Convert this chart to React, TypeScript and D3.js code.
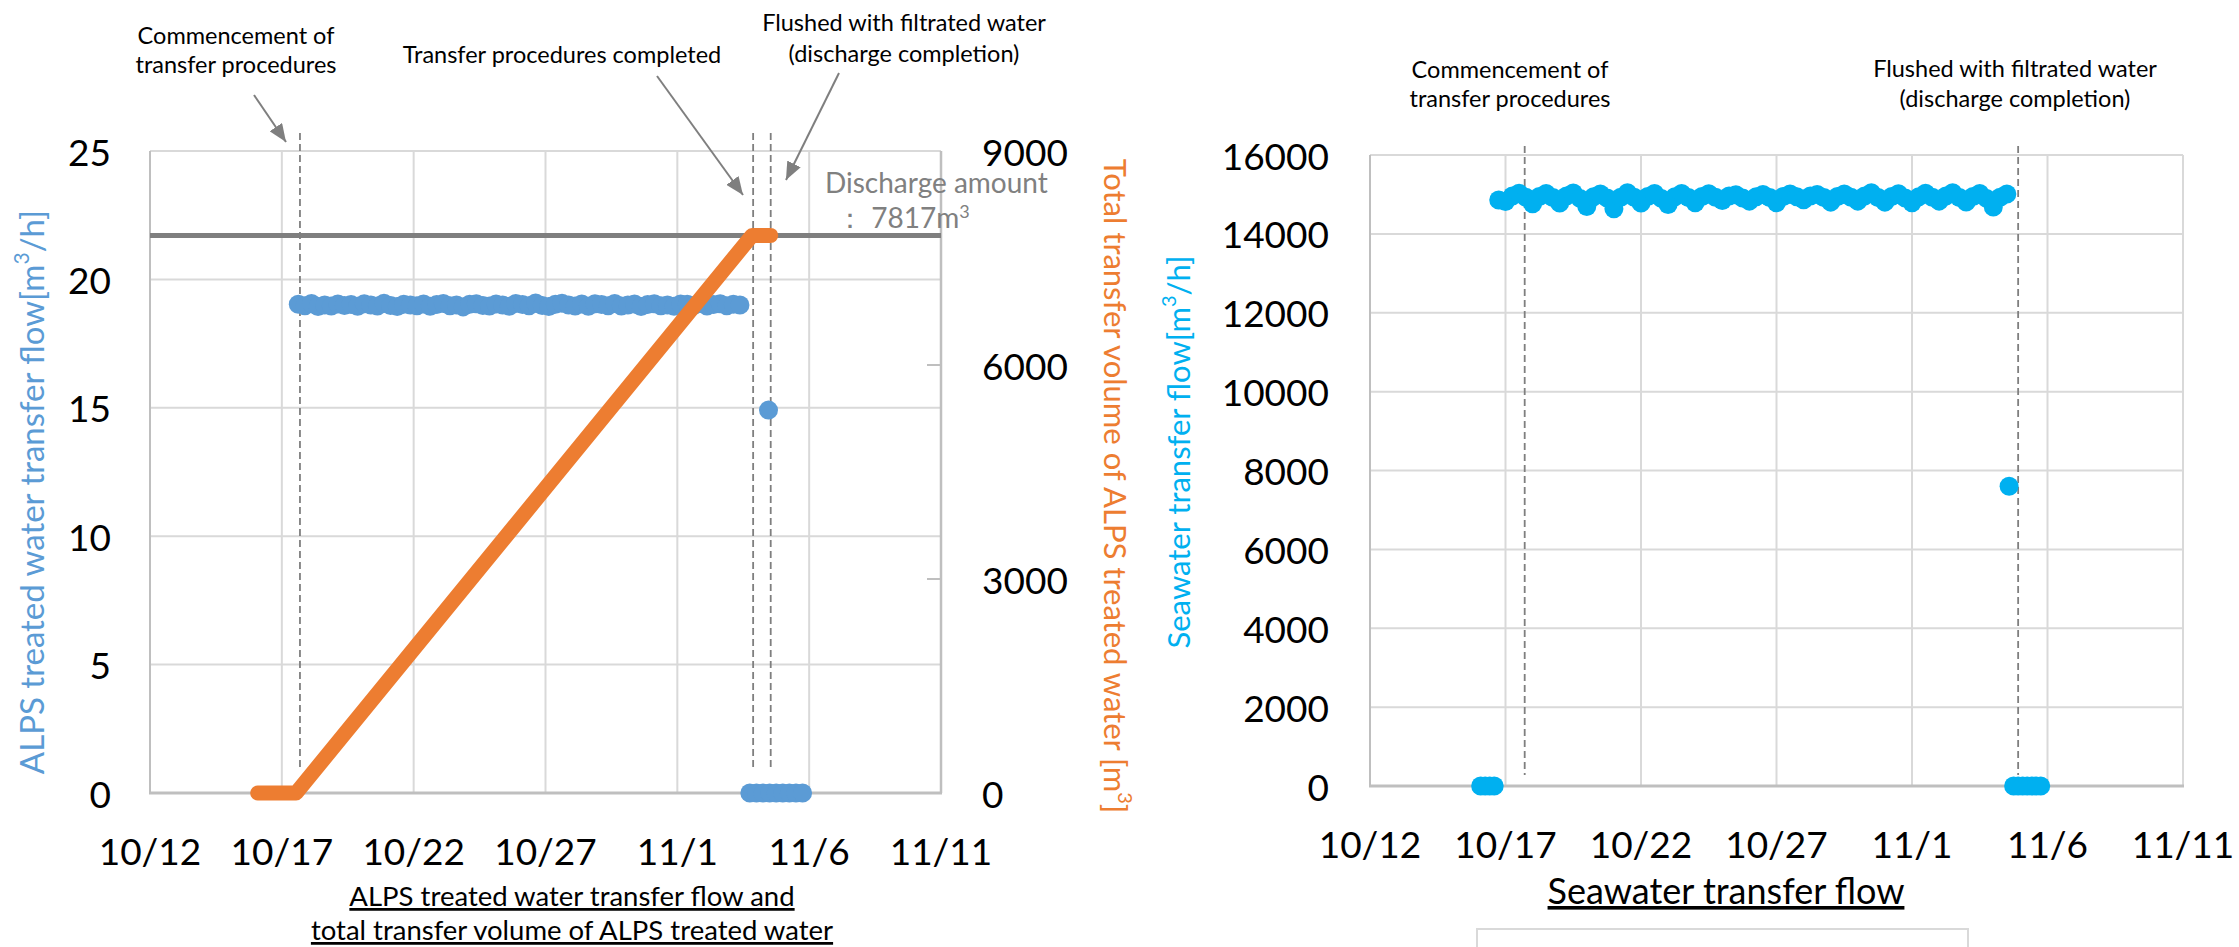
import React from "react";
import * as d3 from "d3";

// ---------- DATA ----------
const xTickLabels = ["10/12", "10/17", "10/22", "10/27", "11/1", "11/6", "11/11"];
const leftTicks = [0, 5, 10, 15, 20, 25];
const leftRightTicks = [0, 3000, 6000, 9000];
const rightTicks = [0, 2000, 4000, 6000, 8000, 10000, 12000, 14000, 16000];

// ALPS treated water transfer flow (m3/h), sampled every 6 h from 10/17 15:00
const alpsFlowStart = "10/17 15:00";
const alpsFlowValues = [
  19.03, 18.97, 19.06, 18.94, 19.0, 18.96, 19.04, 18.98, 19.02, 18.95,
  19.05, 19.0, 18.96, 19.07, 18.98, 18.94, 19.03, 19.0, 18.97, 19.04,
  18.95, 19.02, 19.06, 18.97, 19.0, 18.93, 19.03, 19.05, 18.98, 18.96,
  19.04, 19.0, 18.95, 19.06, 19.02, 18.97, 19.08, 18.98, 18.94, 19.03,
  19.07, 19.0, 18.96, 19.04, 18.95, 19.05, 19.02, 18.97, 19.06, 18.96,
  19.0, 19.04, 18.94, 19.02, 19.05, 18.97, 19.0, 18.95, 19.04, 19.03,
  18.98, 19.06, 18.96, 19.02, 19.05, 18.97, 19.03, 19.0,
];
// other ALPS flow points
const alpsFlowExtra: [string, number][] = [
  ["11/4 11:00", 14.91],
  ["11/3 18:00", 0], ["11/4 00:00", 0], ["11/4 06:00", 0], ["11/4 12:00", 0],
  ["11/4 18:00", 0], ["11/5 00:00", 0], ["11/5 06:00", 0], ["11/5 12:00", 0], ["11/5 18:00", 0],
];
// Total transfer volume of ALPS treated water (m3)
const alpsVolume: [string, number][] = [
  ["10/16 02:00", 0],
  ["10/17 13:00", 0],
  ["11/3 20:00", 7817],
  ["11/4 13:00", 7817],
];
const dischargeAmount = 7817;

// Seawater transfer flow (m3/h), every 6 h from 10/16 18:00
const seaFlowStart = "10/16 18:00";
const seaFlowValues = [
  14860, 14820, 14960, 15030,
  14930, 14765, 14950, 15025,
  14920, 14780, 14960, 15035,
  14900, 14695, 14940, 15010,
  14910, 14635, 14930, 15045,
  14930, 14780, 14950, 15025,
  14900, 14745, 14940, 15025,
  14920, 14790, 14950, 15020,
  14930, 14845, 14960, 14990,
  14910, 14830, 14940, 15000,
  14920, 14790, 14950, 15010,
  14940, 14865, 14960, 15000,
  14920, 14805, 14950, 15010,
  14930, 14830, 14960, 15045,
  14920, 14805, 14950, 15020,
  14910, 14790, 14940, 15030,
  14930, 14830, 14960, 15045,
  14920, 14810, 14950, 15025,
  14900, 14680, 14930, 15010,
];
const seaFlowExtra: [string, number][] = [
  ["11/4 14:00", 7600],
  ["10/16 02:00", 0], ["10/16 06:00", 0], ["10/16 10:00", 0], ["10/16 14:00", 0],
  ["11/4 18:00", 0], ["11/4 22:00", 0], ["11/5 02:00", 0], ["11/5 06:00", 0],
  ["11/5 10:00", 0], ["11/5 14:00", 0], ["11/5 18:00", 0],
];

// event markers
const leftEvents = ["10/17 16:30", "11/3 21:00", "11/4 13:00"];
const rightEvents = ["10/17 17:00", "11/4 22:00"];

// ---------- HELPERS ----------
const parse = d3.timeParse("%Y/%m/%d %H:%M");
const t = (s: string) => parse("2024/" + s) as Date;
const tickDates = xTickLabels.map((s) => t(s + " 00:00"));
const fmt = (d: Date) => `${d.getMonth() + 1}/${d.getDate()}`;
const seq = (start: string, vals: number[]) =>
  vals.map((v, i) => ({ d: d3.timeHour.offset(t(start), i * 6), v }));

const FONT = "Lato, 'Noto Sans', sans-serif";
const GRID = "#d9d9d9";
const AXIS = "#bfbfbf";
const DASH = "#7f7f7f";
const BLUE = "#5b9bd5";
const ORANGE = "#ed7d31";
const CYAN = "#00b0f0";
const R = 9.5;

export default function App() {
  // left chart scales
  const xL = d3.scaleTime().domain([tickDates[0], tickDates[6]]).range([150, 941]);
  const yL = d3.scaleLinear().domain([0, 25]).range([793, 151]);
  const yL2 = d3.scaleLinear().domain([0, 9000]).range([793, 151]);
  // right chart scales
  const xR = d3.scaleTime().domain([tickDates[0], tickDates[6]]).range([1370, 2183]);
  const yR = d3.scaleLinear().domain([0, 16000]).range([786, 155]);

  const alpsPts = [...seq(alpsFlowStart, alpsFlowValues), ...alpsFlowExtra.map(([s, v]) => ({ d: t(s), v }))];
  const seaPts = [...seq(seaFlowStart, seaFlowValues), ...seaFlowExtra.map(([s, v]) => ({ d: t(s), v }))];
  const volLine = d3
    .line<[string, number]>()
    .x((p) => xL(t(p[0])))
    .y((p) => yL2(p[1]))(alpsVolume) as string;

  const annot = { fontFamily: FONT, fontSize: 23.5, fill: "#000", textAnchor: "middle" as const };

  return (
    <svg width={2239} height={947} style={{ position: "absolute", left: 0, top: 0, background: "#fff" }}>
      <defs>
        <marker id="arr" markerUnits="userSpaceOnUse" markerWidth={19} markerHeight={15} refX={18} refY={7.5} orient="auto">
          <path d="M0,0 L18,7.5 L0,15 Z" fill={DASH} />
        </marker>
      </defs>

      {/* ================= LEFT CHART ================= */}
      <g>
        {leftTicks.map((v) => (
          <line key={"lg" + v} x1={150} x2={941} y1={yL(v)} y2={yL(v)} stroke={GRID} strokeWidth={2} />
        ))}
        {tickDates.slice(1, 6).map((d, i) => (
          <line key={"lv" + i} x1={xL(d)} x2={xL(d)} y1={151} y2={793} stroke={GRID} strokeWidth={2} />
        ))}
        <line x1={150} x2={150} y1={151} y2={793} stroke={AXIS} strokeWidth={2} />
        <line x1={941} x2={941} y1={151} y2={793} stroke={AXIS} strokeWidth={2.5} />
        {leftRightTicks.slice(1, 3).map((v) => (
          <line key={"rt" + v} x1={927} x2={941} y1={yL2(v)} y2={yL2(v)} stroke={AXIS} strokeWidth={2} />
        ))}
        <line x1={149} x2={942} y1={793} y2={793} stroke={AXIS} strokeWidth={3} />

        {/* discharge amount line */}
        <line x1={150} x2={941} y1={yL2(dischargeAmount)} y2={yL2(dischargeAmount)} stroke="#7f7f7f" strokeWidth={5} />

        {/* event dashed lines */}
        {leftEvents.map((s) => (
          <line key={s} x1={xL(t(s))} x2={xL(t(s))} y1={133} y2={770} stroke={DASH} strokeWidth={1.8} strokeDasharray="7 4" />
        ))}

        {/* ALPS flow dots */}
        {alpsPts.map((p, i) => (
          <circle key={"a" + i} cx={xL(p.d)} cy={yL(p.v)} r={R} fill={BLUE} />
        ))}
        {/* ALPS total volume */}
        <path d={volLine} fill="none" stroke={ORANGE} strokeWidth={15} strokeLinecap="round" strokeLinejoin="round" />

        {/* tick labels */}
        {leftTicks.map((v) => (
          <text key={"ly" + v} x={111} y={yL(v)} dominantBaseline="central" textAnchor="end" fontFamily={FONT} fontSize={37}>
            {v}
          </text>
        ))}
        {leftRightTicks.map((v) => (
          <text key={"lr" + v} x={982} y={yL2(v)} dominantBaseline="central" textAnchor="start" fontFamily={FONT} fontSize={37}>
            {v}
          </text>
        ))}
        {tickDates.map((d, i) => (
          <text key={"lx" + i} x={xL(d)} y={850} dominantBaseline="central" textAnchor="middle" fontFamily={FONT} fontSize={37}>
            {fmt(d)}
          </text>
        ))}

        {/* axis titles */}
        <text transform="translate(31,492) rotate(-90)" dominantBaseline="central" textAnchor="middle" fontFamily={FONT} fontSize={33} fill={BLUE}>
          ALPS treated water transfer flow[m<tspan dy={-11} fontSize={21}>3</tspan><tspan dy={11}>/h]</tspan>
        </text>
        <text transform="translate(1116,486) rotate(90)" dominantBaseline="central" textAnchor="middle" fontFamily={FONT} fontSize={31} fill={ORANGE}>
          Total transfer volume of ALPS treated water [m<tspan dy={-10} fontSize={20}>3</tspan><tspan dy={10}>]</tspan>
        </text>

        {/* discharge amount label */}
        <text x={825} y={193} fontFamily={FONT} fontSize={28} fill="#808080">Discharge amount</text>
        <text x={836} y={228} fontFamily={FONT} fontSize={28} fill="#808080">
          ： 7817m<tspan dy={-10} fontSize={18}>3</tspan>
        </text>

        {/* annotations */}
        <text x={236} y={44} {...annot}>Commencement of</text>
        <text x={236} y={73} {...annot}>transfer procedures</text>
        <text x={562} y={63} {...annot}>Transfer procedures completed</text>
        <text x={904} y={31} {...annot}>Flushed with filtrated water</text>
        <text x={904} y={62} {...annot}>(discharge completion)</text>
        <line x1={254} y1={95} x2={286} y2={142} stroke={DASH} strokeWidth={2} markerEnd="url(#arr)" />
        <line x1={657} y1={76} x2={743} y2={195} stroke={DASH} strokeWidth={2} markerEnd="url(#arr)" />
        <line x1={839} y1={73} x2={786} y2={180} stroke={DASH} strokeWidth={2} markerEnd="url(#arr)" />

        {/* chart title */}
        <text x={572} y={906} textAnchor="middle" fontFamily={FONT} fontSize={27.5} textDecoration="underline">
          ALPS treated water transfer flow and
        </text>
        <text x={572} y={940} textAnchor="middle" fontFamily={FONT} fontSize={27.5} textDecoration="underline">
          total transfer volume of ALPS treated water
        </text>
      </g>

      {/* ================= RIGHT CHART ================= */}
      <g>
        {rightTicks.map((v) => (
          <line key={"rg" + v} x1={1370} x2={2183} y1={yR(v)} y2={yR(v)} stroke={GRID} strokeWidth={2} />
        ))}
        {tickDates.slice(1).map((d, i) => (
          <line key={"rv" + i} x1={xR(d)} x2={xR(d)} y1={155} y2={786} stroke={GRID} strokeWidth={2} />
        ))}
        <line x1={1370} x2={1370} y1={155} y2={786} stroke={AXIS} strokeWidth={2} />
        <line x1={1369} x2={2184} y1={786} y2={786} stroke={AXIS} strokeWidth={3} />

        {rightEvents.map((s) => (
          <line key={s} x1={xR(t(s))} x2={xR(t(s))} y1={146} y2={775} stroke={DASH} strokeWidth={1.8} strokeDasharray="7 4" />
        ))}

        {seaPts.map((p, i) => (
          <circle key={"s" + i} cx={xR(p.d)} cy={yR(p.v)} r={R} fill={CYAN} />
        ))}

        {rightTicks.map((v) => (
          <text key={"ry" + v} x={1329} y={yR(v)} dominantBaseline="central" textAnchor="end" fontFamily={FONT} fontSize={37}>
            {v}
          </text>
        ))}
        {tickDates.map((d, i) => (
          <text key={"rx" + i} x={xR(d)} y={843} dominantBaseline="central" textAnchor="middle" fontFamily={FONT} fontSize={37}>
            {fmt(d)}
          </text>
        ))}

        <text transform="translate(1178,452) rotate(-90)" dominantBaseline="central" textAnchor="middle" fontFamily={FONT} fontSize={31} fill={CYAN}>
          Seawater transfer flow[m<tspan dy={-10} fontSize={20}>3</tspan><tspan dy={10}>/h]</tspan>
        </text>

        <text x={1510} y={78} {...annot}>Commencement of</text>
        <text x={1510} y={107} {...annot}>transfer procedures</text>
        <text x={2015} y={77} {...annot}>Flushed with filtrated water</text>
        <text x={2015} y={107} {...annot}>(discharge completion)</text>

        <text x={1726} y={904} textAnchor="middle" fontFamily={FONT} fontSize={36} textDecoration="underline">
          Seawater transfer flow
        </text>
        <rect x={1477} y={929} width={491} height={40} fill="none" stroke={GRID} strokeWidth={2} />
      </g>
    </svg>
  );
}
